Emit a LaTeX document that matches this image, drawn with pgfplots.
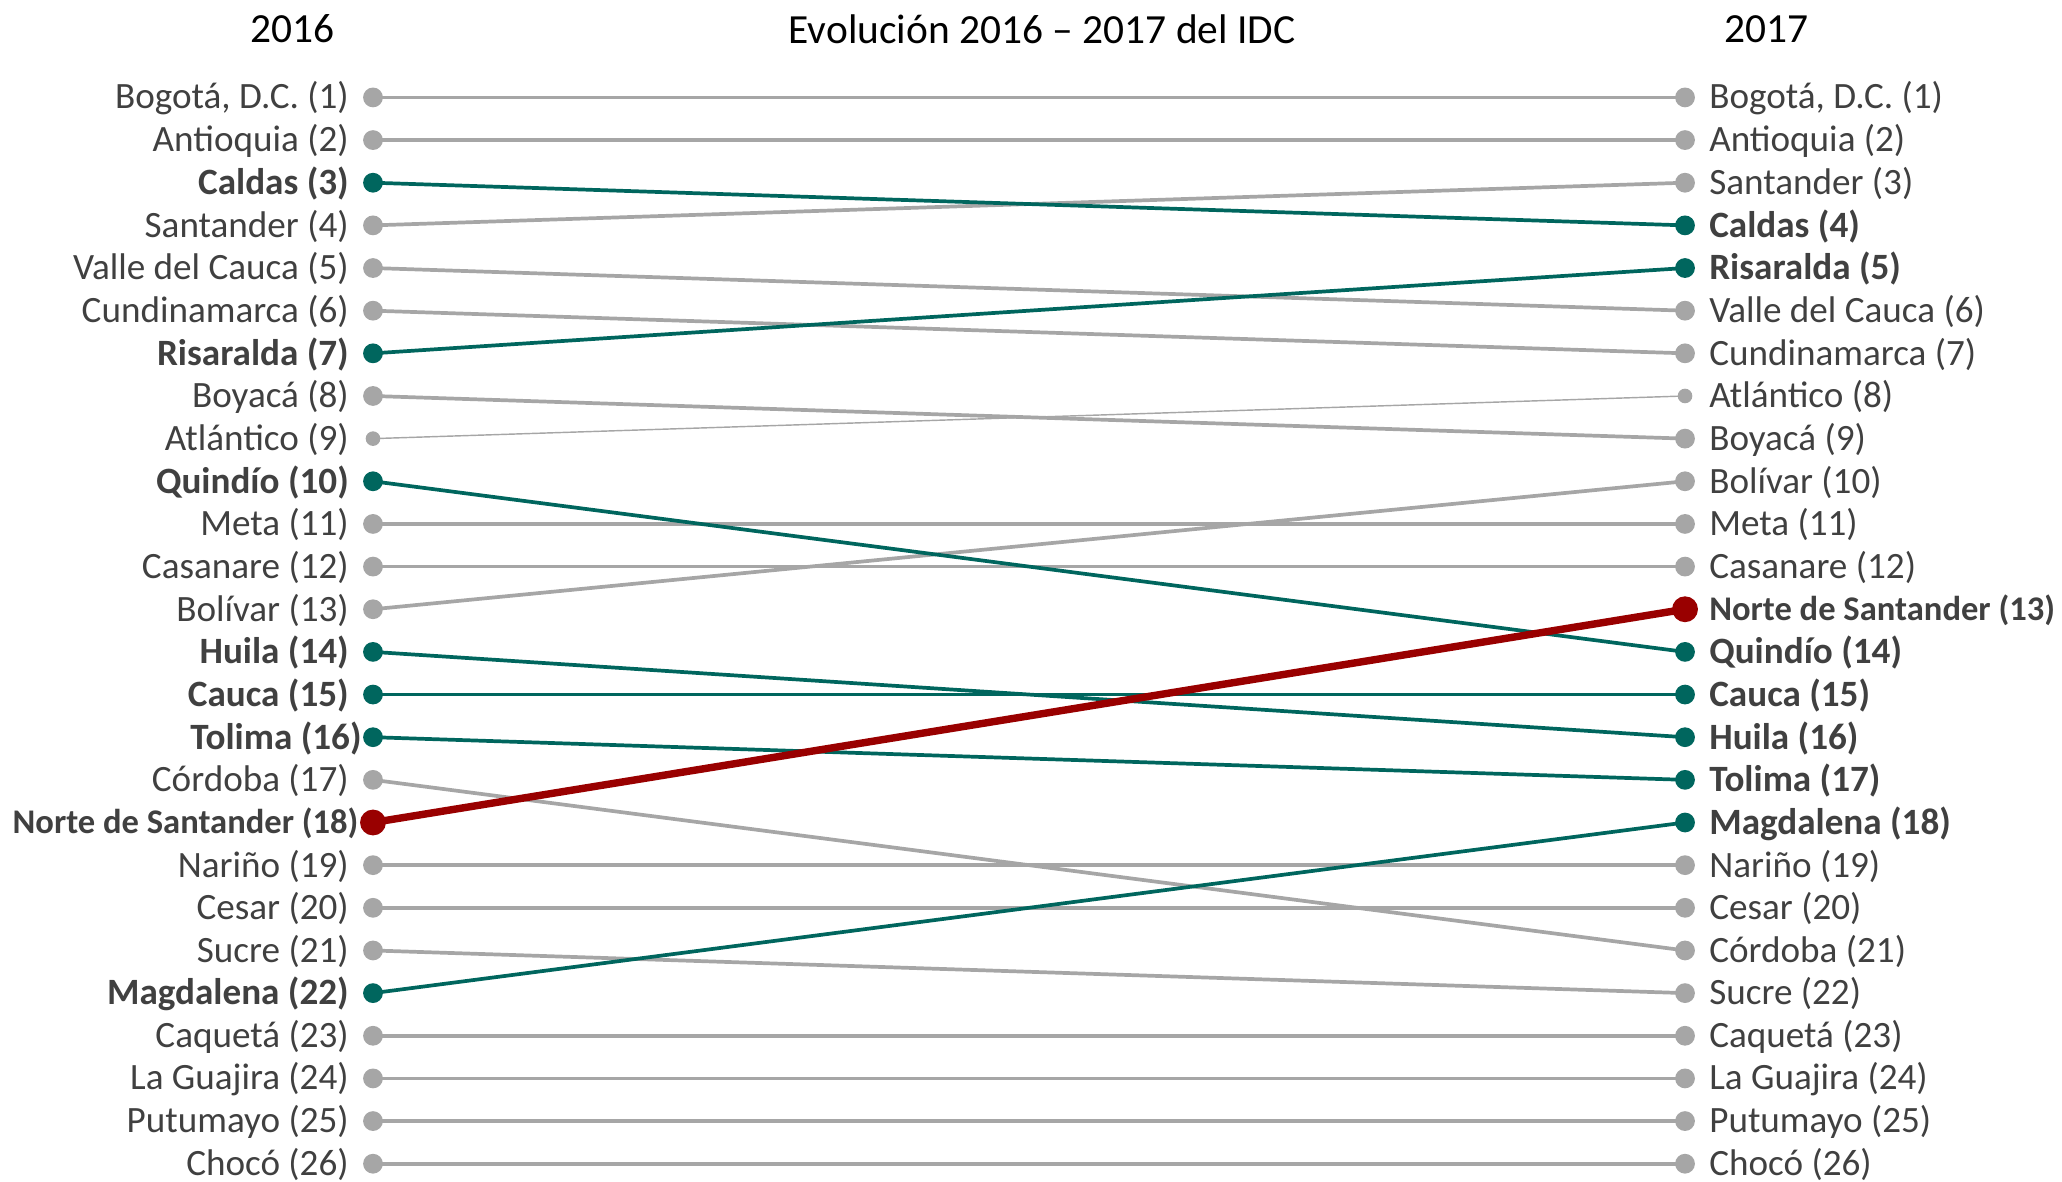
\documentclass[border=0pt]{standalone}
\usepackage{fontspec}
\setmainfont{Carlito}
\usepackage{pgfplots}
\pgfplotsset{compat=1.18}
\definecolor{gris}{HTML}{A6A6A6}
\definecolor{verde}{HTML}{00665E}
\definecolor{rojo}{HTML}{990000}
\definecolor{texto}{HTML}{404040}

\newcommand{\ns}{\fontsize{12.1}{14}\selectfont}

\pgfplotsset{
  slope/.style={
    at={(130.55pt,6.4pt)}, anchor=south west,
    scale only axis, width=459.2pt, height=373.2pt,
    xmin=0, xmax=1, ymin=1, ymax=26, y dir=reverse,
    axis line style={draw=none}, clip=false,
    xtick=\empty, ytick={1,...,26},
    major tick length=0pt, tick style={draw=none},
    yticklabel style={font=\fontsize{13}{14}\selectfont, text=texto, inner xsep=0pt, yshift=-0.3pt},
  },
  g/.style={gris, line width=1.3pt, mark=*, mark size=2.8pt},
  gfina/.style={gris, line width=0.5pt, mark=*, mark size=2.3pt},
  v/.style={verde, line width=1.3pt, mark=*, mark size=2.8pt},
  r/.style={rojo, line width=2.6pt, mark=*, mark size=3.2pt},
}

\begin{document}
\begin{tikzpicture}
\useasboundingbox (0,0) rectangle (721.7pt,413.7pt);

% ranking 2016 -> 2017
\begin{axis}[slope,
  yticklabel style={xshift=-8.3pt},
  yticklabels={{Bogotá, D.C. (1)}, Antioquia (2), \textbf{Caldas (3)}, Santander (4),
    Valle del Cauca (5), Cundinamarca (6), \textbf{Risaralda (7)}, Boyacá (8),
    Atlántico (9), \textbf{Quindío (10)}, Meta (11), Casanare (12), Bolívar (13),
    \textbf{Huila (14)}, \textbf{Cauca (15)}, \textbf{Tolima (16)}\kern-4.5pt, Córdoba (17),
    {\ns\textbf{Norte de Santander (18)}}\kern-3.4pt, Nariño (19), Cesar (20), Sucre (21),
    \textbf{Magdalena (22)}, Caquetá (23), La Guajira (24), Putumayo (25), Chocó (26)},
]
\addplot[g] coordinates {(0,1) (1,1)};
\addplot[g] coordinates {(0,2) (1,2)};
\addplot[g] coordinates {(0,4) (1,3)};
\addplot[g] coordinates {(0,5) (1,6)};
\addplot[g] coordinates {(0,6) (1,7)};
\addplot[g] coordinates {(0,8) (1,9)};
\addplot[gfina] coordinates {(0,9) (1,8)};
\addplot[g] coordinates {(0,11) (1,11)};
\addplot[g] coordinates {(0,12) (1,12)};
\addplot[g] coordinates {(0,13) (1,10)};
\addplot[g] coordinates {(0,17) (1,21)};
\addplot[g] coordinates {(0,19) (1,19)};
\addplot[g] coordinates {(0,20) (1,20)};
\addplot[g] coordinates {(0,21) (1,22)};
\addplot[g] coordinates {(0,23) (1,23)};
\addplot[g] coordinates {(0,24) (1,24)};
\addplot[g] coordinates {(0,25) (1,25)};
\addplot[g] coordinates {(0,26) (1,26)};
\addplot[v] coordinates {(0,3) (1,4)};
\addplot[v] coordinates {(0,7) (1,5)};
\addplot[v] coordinates {(0,10) (1,14)};
\addplot[v] coordinates {(0,14) (1,16)};
\addplot[v] coordinates {(0,15) (1,15)};
\addplot[v] coordinates {(0,16) (1,17)};
\addplot[v] coordinates {(0,22) (1,18)};
\addplot[r] coordinates {(0,18) (1,13)};
\end{axis}

\begin{axis}[slope,
  yticklabel pos=right,
  yticklabel style={xshift=8.3pt},
  yticklabels={{Bogotá, D.C. (1)}, Antioquia (2), Santander (3), \textbf{Caldas (4)},
    \textbf{Risaralda (5)}, Valle del Cauca (6), Cundinamarca (7), Atlántico (8),
    Boyacá (9), Bolívar (10), Meta (11), Casanare (12), {\ns\textbf{Norte de Santander (13)}},
    \textbf{Quindío (14)}, \textbf{Cauca (15)}, \textbf{Huila (16)}, \textbf{Tolima (17)},
    \textbf{Magdalena (18)}, Nariño (19), Cesar (20), Córdoba (21), Sucre (22),
    Caquetá (23), La Guajira (24), Putumayo (25), Chocó (26)},
]
\end{axis}

\node[font=\fontsize{14.5}{16}\selectfont] at (102.2pt,403.55pt) {2016};
\node[font=\fontsize{14.5}{16}\selectfont] at (364.7pt,403.55pt) {Evolución 2016 – 2017 del IDC};
\node[font=\fontsize{14.5}{16}\selectfont] at (618.1pt,403.55pt) {2017};
\end{tikzpicture}
\end{document}
